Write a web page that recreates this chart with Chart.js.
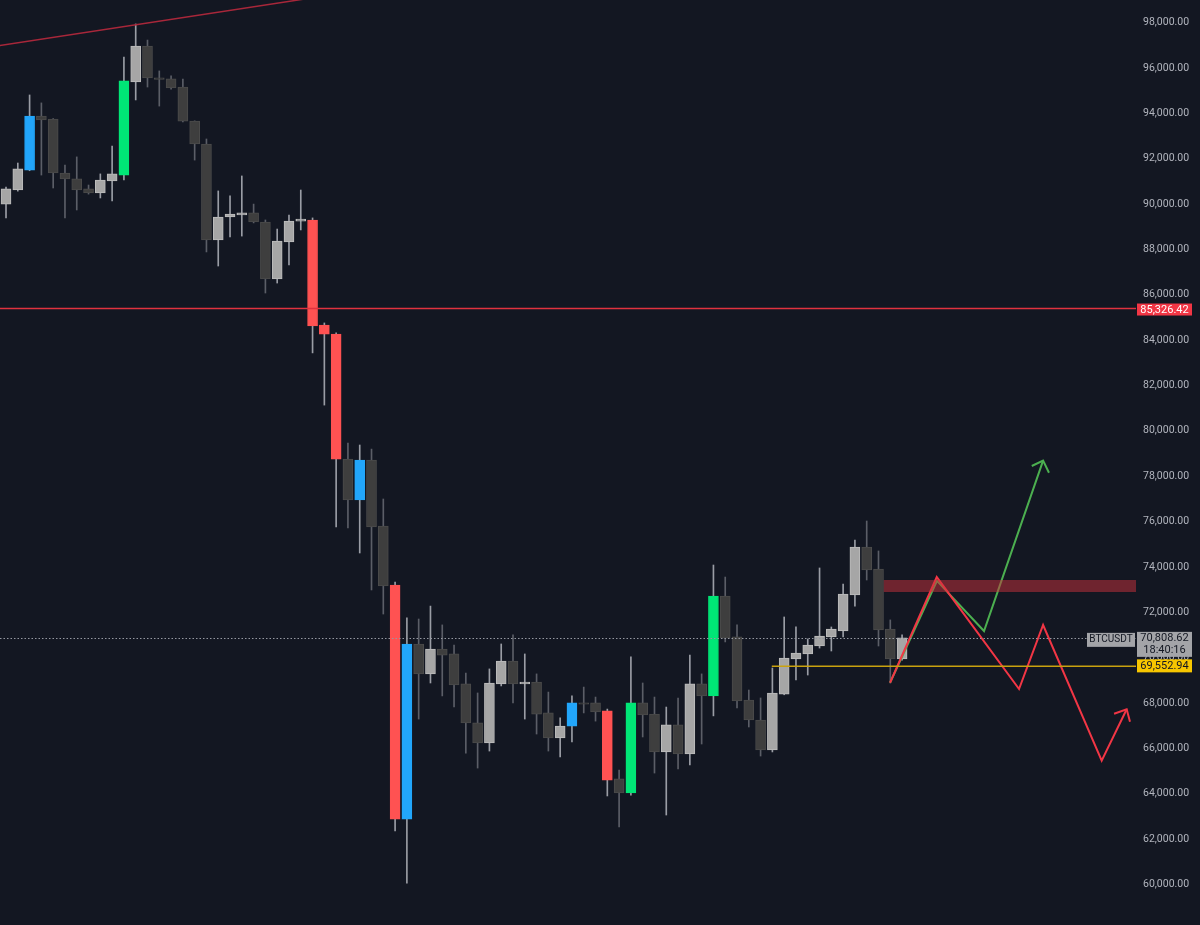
<!DOCTYPE html>
<html>
<head>
<meta charset="utf-8">
<script src="https://cdn.jsdelivr.net/npm/chart.js@4.4.1/dist/chart.umd.min.js"></script>
<style>
    html, body { margin: 0; padding: 0; background: #131722; }
    canvas { display: block; }
</style>
</head>
<body>
<canvas id="btcChart" width="1200" height="925"></canvas>
<script>
// daily BTCUSDT candles, oldest first
const opens = [
    89930, 90550, 91430, 93810, 93680, 91300, 91040, 90600, 90420, 90950,
    91210, 95310, 96900, 95490, 95450, 95090, 93590, 92580, 88350, 89360,
    89450, 89540, 89140, 86630, 88260, 89180, 89230, 84600, 84200, 78690,
    76890, 78650, 75740, 73140, 62820, 70540, 69220, 70320, 70100, 68780,
    67060, 66180, 68780, 69790, 68780, 68860, 67500, 66400, 66920, 67940,
    67940, 67590, 64590, 63970, 67940, 67450, 65780, 66970, 65690, 68780,
    68250, 72650, 70850, 68070, 67190, 65870, 68330, 69880, 70100, 70450,
    70850, 71110, 72700, 74810, 73840, 71200, 69880
];
const highs = [
    90680, 91740, 94740, 94390, 93700, 91650, 92010, 90770, 91260, 92490,
    96410, 97870, 97160, 95800, 95580, 95440, 93600, 92800, 90510, 90290,
    91170, 89930, 89230, 88830, 89450, 90550, 89320, 84690, 84250, 79400,
    79310, 79130, 76930, 73270, 71690, 71640, 72210, 71380, 70490, 69260,
    68380, 69440, 70540, 70940, 70100, 69220, 68420, 67280, 68250, 68640,
    68200, 67670, 64980, 69970, 68820, 68200, 67760, 68160, 70050, 69220,
    74020, 73490, 71380, 68510, 68160, 69480, 71730, 71290, 70760, 73890,
    71290, 73180, 75120, 75960, 74640, 71600, 70940
];
const lows = [
    89320, 90500, 91400, 91210, 90640, 89320, 89670, 90370, 90200, 90070,
    90990, 94520, 95090, 94250, 95000, 93550, 91870, 87820, 87200, 88480,
    88520, 89100, 86010, 86450, 87250, 88790, 83370, 81070, 75700, 75650,
    74550, 72920, 71860, 62300, 60000, 67230, 68820, 68250, 67760, 65730,
    65070, 65820, 68690, 67940, 67230, 66570, 65820, 65560, 66220, 67500,
    67140, 63840, 62470, 63880, 66440, 64850, 63000, 65030, 65210, 66130,
    67370, 70630, 67720, 66880, 65600, 65780, 68300, 68950, 69170, 70360,
    70230, 70850, 72210, 73360, 70450, 68820, 69830
];
const closes = [
    90600, 91480, 93810, 93640, 91300, 91040, 90550, 90420, 90990, 91260,
    95360, 96900, 95490, 95420, 95050, 93590, 92580, 88350, 89360, 89490,
    89540, 89140, 86630, 88300, 89180, 89270, 84560, 84200, 78690, 76890,
    78650, 75700, 73100, 62820, 70540, 69220, 70320, 70050, 68730, 67060,
    66180, 68820, 69790, 68780, 68860, 67450, 66400, 66920, 67940, 67890,
    67540, 64540, 63970, 67940, 67410, 65780, 66970, 65690, 68780, 68250,
    72650, 70800, 68030, 67190, 65870, 68380, 69920, 70140, 70490, 70890,
    71200, 72740, 74810, 73800, 71160, 69880, 70808.62
];
// indicator highlight per candle: n = none, g = green, b = blue, r = red
const signals = [
    "n", "n", "b", "n", "n", "n", "n", "n", "n", "n",
    "g", "n", "n", "n", "n", "n", "n", "n", "n", "n",
    "n", "n", "n", "n", "n", "n", "r", "r", "r", "n",
    "b", "n", "n", "r", "b", "n", "n", "n", "n", "n",
    "n", "n", "n", "n", "n", "n", "n", "n", "b", "n",
    "n", "r", "n", "g", "n", "n", "n", "n", "n", "n",
    "g", "n", "n", "n", "n", "n", "n", "n", "n", "n",
    "n", "n", "n", "n", "n", "n", "n"
];
const tickValues = [
    60000, 62000, 64000, 66000, 68000, 70000, 72000, 74000, 76000, 78000,
    80000, 82000, 84000, 86000, 88000, 90000, 92000, 94000, 96000, 98000
];

// drawings (x = candle index, y = price)
const trendLine = [{ x: -0.6, y: 96910 }, { x: 25.2, y: 98960 }];
const bullPath = [{ x: 74.98, y: 68830 }, { x: 78.96, y: 73320 }, { x: 82.95, y: 71110 }, { x: 87.96, y: 78620 }];
const bullArrow = [{ x: 87.0, y: 78385 }, { x: 87.96, y: 78620 }, { x: 88.46, y: 78090 }];
const bearPath = [
    { x: 74.98, y: 68830 }, { x: 78.94, y: 73490 }, { x: 85.92, y: 68555 },
    { x: 87.96, y: 71376 }, { x: 92.93, y: 65394 }, { x: 95.05, y: 67660 }
];
const bearArrow = [{ x: 93.98, y: 67466 }, { x: 95.05, y: 67660 }, { x: 95.33, y: 67114 }];
const zone = { from: 74.45, top: 73360, bottom: 72830 };
const resistance = 85326.42;
const lastPrice = 70808.62;
const countdown = "18:40:16";
const support = { from: 64.95, price: 69552.94 };

const signalColors = { g: "#00e676", b: "#22a6fb", r: "#ff5252" };

function bodyColor(i) {
    if (signals[i] !== "n") return signalColors[signals[i]];
    return closes[i] >= opens[i] ? "#a6a6a6" : "#3e3e3e";
}
function bodyBorder(i) {
    if (signals[i] !== "n") return signalColors[signals[i]];
    return closes[i] >= opens[i] ? "#bdbdbd" : "#4b4b4b";
}
function wickColor(i) {
    if (signals[i] === "n" && closes[i] < opens[i]) return "#5b5e67";
    return "#9a9da5";
}

function fmt(v) {
    return v.toLocaleString("en-US", { minimumFractionDigits: 2, maximumFractionDigits: 2 });
}

const overlay = {
    id: "overlay",
    afterDatasetsDraw(chart) {
        const { ctx, chartArea: a, scales } = chart;
        const x = scales.x, y = scales.y;
        ctx.save();

        // red resistance line
        const ry = y.getPixelForValue(resistance);
        ctx.strokeStyle = "#e0323f";
        ctx.lineWidth = 1.5;
        ctx.beginPath();
        ctx.moveTo(a.left, ry);
        ctx.lineTo(a.right, ry);
        ctx.stroke();

        // last price dotted line
        const ly = Math.round(y.getPixelForValue(lastPrice)) + 0.5;
        ctx.strokeStyle = "#9598a1";
        ctx.lineWidth = 1;
        ctx.setLineDash([1.5, 2]);
        ctx.beginPath();
        ctx.moveTo(a.left, ly);
        ctx.lineTo(a.right, ly);
        ctx.stroke();
        ctx.setLineDash([]);

        // yellow support line
        const sy = y.getPixelForValue(support.price);
        ctx.strokeStyle = "#c9a20f";
        ctx.lineWidth = 1.5;
        ctx.beginPath();
        ctx.moveTo(x.getPixelForValue(support.from), sy);
        ctx.lineTo(a.right, sy);
        ctx.stroke();

        // zone box
        const zx = x.getPixelForValue(zone.from);
        const zt = y.getPixelForValue(zone.top);
        const zb = y.getPixelForValue(zone.bottom);
        ctx.fillStyle = "rgba(204, 50, 60, 0.5)";
        ctx.fillRect(zx, zt, a.right - zx, zb - zt);
        ctx.restore();
    },
    afterDraw(chart) {
        const { ctx, chartArea: a, scales } = chart;
        const y = scales.y;
        const bx = a.right + 1;
        const bw = 55;
        ctx.save();
        ctx.font = "11px Roboto";
        ctx.textBaseline = "middle";
        ctx.textAlign = "center";

        // resistance label
        const ry = y.getPixelForValue(resistance);
        ctx.fillStyle = "#f23645";
        ctx.fillRect(bx, ry - 5, bw, 12);
        ctx.fillStyle = "#ffffff";
        ctx.fillText(fmt(resistance), bx + bw / 2, ry + 1.5);

        // last price label
        const ly = y.getPixelForValue(lastPrice);
        ctx.fillStyle = "#a3a4a8";
        ctx.fillRect(bx, ly - 6, bw, 25);
        ctx.fillRect(a.right - 49, ly - 5, 48, 14);
        ctx.fillStyle = "#131722";
        ctx.fillText(fmt(lastPrice), bx + bw / 2, ly + 0.5);
        ctx.fillText(countdown, bx + bw / 2, ly + 12.5);
        ctx.font = "10px Roboto";
        ctx.fillText("BTCUSDT", a.right - 25, ly + 2);

        // support label
        ctx.font = "11px Roboto";
        const sy = y.getPixelForValue(support.price);
        ctx.fillStyle = "#f7c600";
        ctx.fillRect(bx, sy - 7, bw, 13);
        ctx.fillStyle = "#131722";
        ctx.fillText(fmt(support.price), bx + bw / 2, sy);
        ctx.restore();
    }
};

const ctx = document.getElementById("btcChart");

new Chart(ctx, {
    type: "bar",
    data: {
        datasets: [
            {
                type: "line",
                data: bearArrow,
                borderColor: "#f23645",
                borderWidth: 2,
                pointRadius: 0,
                order: 0,
            },
            {
                type: "line",
                data: bearPath,
                borderColor: "#f23645",
                borderWidth: 2,
                pointRadius: 0,
                order: 0,
            },
            {
                type: "line",
                data: bullArrow,
                borderColor: "#4caf50",
                borderWidth: 2,
                pointRadius: 0,
                order: 1,
            },
            {
                type: "line",
                data: bullPath,
                borderColor: "#4caf50",
                borderWidth: 2,
                pointRadius: 0,
                order: 1,
            },
            {
                type: "line",
                data: trendLine,
                borderColor: "#a8273a",
                borderWidth: 1.5,
                pointRadius: 0,
                order: 1,
            },
            {
                data: opens.map((o, i) => ({ x: i, y: [o, closes[i]] })),
                backgroundColor: opens.map((o, i) => bodyColor(i)),
                borderColor: opens.map((o, i) => bodyBorder(i)),
                borderWidth: 1,
                borderSkipped: false,
                barThickness: 10,
                minBarLength: 1,
                grouped: false,
                order: 2,
            },
            {
                data: lows.map((l, i) => ({ x: i, y: [l, highs[i]] })),
                backgroundColor: lows.map((l, i) => wickColor(i)),
                borderWidth: 0,
                barThickness: 1,
                grouped: false,
                order: 3,
            },
        ],
    },
    options: {
        responsive: false,
        devicePixelRatio: 1,
        animation: false,
        layout: { padding: 0, autoPadding: false },
        plugins: {
            legend: { display: false },
            tooltip: { enabled: false },
        },
        scales: {
            x: {
                type: "linear",
                offset: false,
                min: -0.51,
                max: 95.84,
                display: false,
            },
            y: {
                position: "right",
                min: 58152,
                max: 98926,
                grid: { display: false, drawTicks: false },
                border: { display: false },
                afterBuildTicks: (axis) => {
                    axis.ticks = tickValues.map((v) => ({ value: v }));
                },
                afterFit: (axis) => {
                    axis.width = 64;
                    axis.paddingTop = 0;
                    axis.paddingBottom = 0;
                },
                ticks: {
                    padding: 7,
                    labelOffset: 1.5,
                    color: "#b2b5be",
                    font: { family: "Roboto", size: 10.5 },
                    callback: (v) => fmt(v),
                },
            },
        },
    },
    plugins: [overlay],
});
</script>
</body>
</html>
